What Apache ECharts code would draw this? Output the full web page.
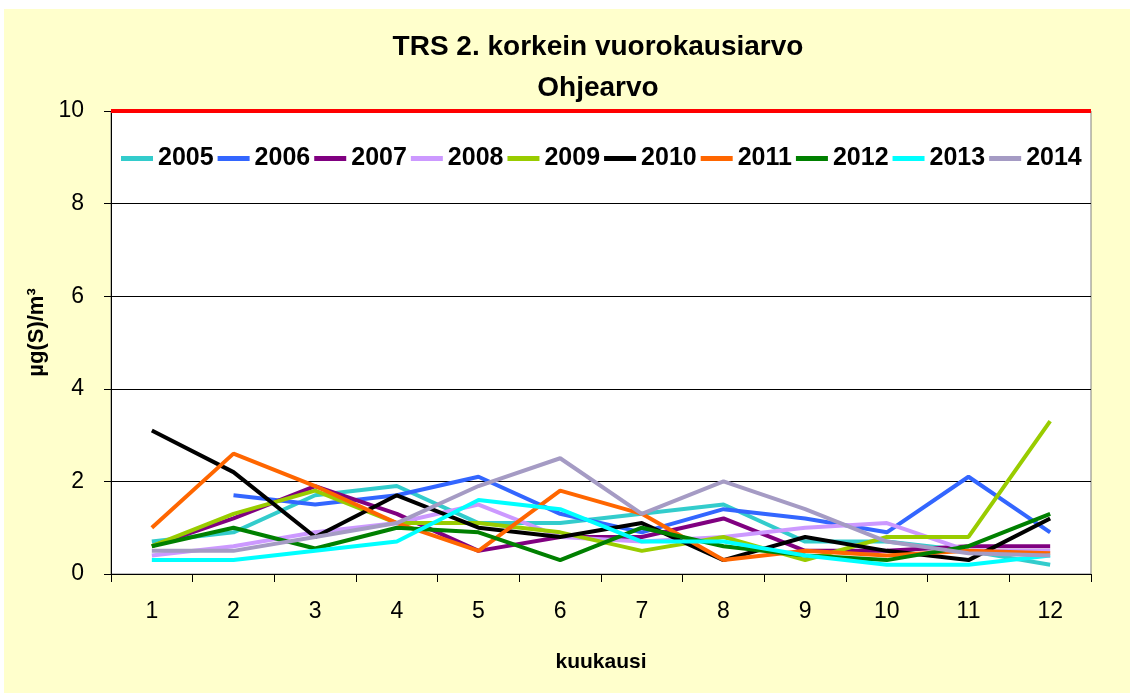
<!DOCTYPE html>
<html>
<head>
<meta charset="utf-8">
<title>TRS 2. korkein vuorokausiarvo</title>
<script src="https://cdn.jsdelivr.net/npm/echarts@6/dist/echarts.min.js"></script>
<style>
  html, body { margin: 0; padding: 0; background: #ffffff; }
  #chart { position: absolute; left: 4px; top: 9px; width: 1126px; height: 684px; background: #ffffcc; }
</style>
</head>
<body>
<div id="chart"></div>
<script>
// Kuukaudet (x-akseli)
const months = ['1', '2', '3', '4', '5', '6', '7', '8', '9', '10', '11', '12'];

// Vuosikohtaiset 2. korkeimmat vuorokausiarvot, µg(S)/m³
const y2005 = [0.7, 0.9, 1.7, 1.9, 1.1, 1.1, 1.3, 1.5, 0.7, 0.7, 0.5, 0.2];
const y2006 = [null, 1.7, 1.5, 1.7, 2.1, 1.3, 0.9, 1.4, 1.2, 0.9, 2.1, 0.9];
const y2007 = [0.6, 1.2, 1.9, 1.3, 0.5, 0.8, 0.8, 1.2, 0.5, 0.5, 0.6, 0.6];
const y2008 = [0.4, 0.6, 0.9, 1.1, 1.5, 0.8, 0.7, 0.8, 1.0, 1.1, 0.5, 0.5];
const y2009 = [0.6, 1.3, 1.8, 1.1, 1.1, 0.9, 0.5, 0.8, 0.3, 0.8, 0.8, 3.3];
const y2010 = [3.1, 2.2, 0.8, 1.7, 1.0, 0.8, 1.1, 0.3, 0.8, 0.5, 0.3, 1.2];
const y2011 = [1.0, 2.6, 1.9, 1.1, 0.5, 1.8, 1.3, 0.3, 0.5, 0.4, 0.5, 0.45];
const y2012 = [0.6, 1.0, 0.55, 1.0, 0.9, 0.3, 1.0, 0.6, 0.4, 0.3, 0.6, 1.3];
const y2013 = [0.3, 0.3, 0.5, 0.7, 1.6, 1.4, 0.7, 0.7, 0.4, 0.2, 0.2, 0.4];
const y2014 = [0.5, 0.5, 0.8, 1.1, 1.9, 2.5, 1.3, 2.0, 1.4, 0.7, 0.45, 0.4];

const years = ['2005', '2006', '2007', '2008', '2009', '2010', '2011', '2012', '2013', '2014'];
const yearData = [y2005, y2006, y2007, y2008, y2009, y2010, y2011, y2012, y2013, y2014];
const yearColors = ['#33cccc', '#3366ff', '#800080', '#cc99ff', '#99cc00',
                    '#000000', '#ff6600', '#008000', '#00ffff', '#a59bc4'];

// Ohjearvo ja y-akselin asteikko
const guideValue = 10;
const yTicks = [0, 2, 4, 6, 8, 10];

const FONT = 'Liberation Sans, Arial, sans-serif';

const series = years.map((name, i) => ({
  name: name,
  type: 'line',
  data: yearData[i],
  showSymbol: false,
  symbol: 'none',
  connectNulls: false,
  lineStyle: { width: 4, color: yearColors[i] },
  itemStyle: { color: yearColors[i] },
  emphasis: { disabled: true },
  animation: false
}));

// Ohjearvoviiva koko piirtoalueen levyisenä
series[0].markLine = {
  silent: true,
  symbol: 'none',
  label: { show: false },
  lineStyle: { color: '#ff0000', width: 4, type: 'solid' },
  data: [{ yAxis: guideValue }],
  animation: false
};

const chart = echarts.init(document.getElementById('chart'), null, { renderer: 'canvas' });

chart.setOption({
  backgroundColor: '#ffffcc',
  animation: false,
  title: [
    {
      text: 'TRS 2. korkein vuorokausiarvo',
      left: 589, top: 19, textAlign: 'center',
      textStyle: { fontFamily: FONT, fontSize: 28, fontWeight: 'bold', color: '#000' }
    },
    {
      text: 'Ohjearvo',
      left: 589, top: 60, textAlign: 'center',
      textStyle: { fontFamily: FONT, fontSize: 28, fontWeight: 'bold', color: '#000' }
    }
  ],
  legend: {
    data: years,
    left: 112, top: 132,
    icon: 'rect',
    itemWidth: 32, itemHeight: 5, itemGap: 4,
    textStyle: { fontFamily: FONT, fontSize: 25, fontWeight: 'bold', color: '#000' },
    selectedMode: false
  },
  grid: {
    left: 107, right: 39, top: 102, bottom: 119,
    show: true, backgroundColor: '#ffffff', borderColor: '#808080', borderWidth: 1,
    containLabel: false
  },
  xAxis: {
    type: 'category',
    data: months,
    boundaryGap: true,
    name: 'kuukausi',
    nameLocation: 'middle',
    nameGap: 78,
    nameTextStyle: { fontFamily: FONT, fontSize: 21, fontWeight: 'bold', color: '#000' },
    axisLine: { lineStyle: { color: '#000', width: 1 } },
    axisTick: { show: true, length: 8, lineStyle: { color: '#000' }, alignWithLabel: false },
    axisLabel: { margin: 26, fontFamily: FONT, fontSize: 23, color: '#000' },
    splitLine: { show: false }
  },
  yAxis: {
    type: 'value',
    min: yTicks[0], max: yTicks[yTicks.length - 1], interval: yTicks[1] - yTicks[0],
    name: 'µg(S)/m³',
    nameLocation: 'middle',
    nameGap: 56,
    nameRotate: 90,
    nameTextStyle: { fontFamily: FONT, fontSize: 22, fontWeight: 'bold', color: '#000', padding: [0, 0, 0, 20] },
    axisLine: { show: true, lineStyle: { color: '#000', width: 1 } },
    axisTick: { show: true, length: 7, lineStyle: { color: '#000' } },
    axisLabel: { margin: 27, fontFamily: FONT, fontSize: 23, color: '#000' },
    splitLine: { show: true, lineStyle: { color: '#000', width: 1 } }
  },
  series: series
});
</script>
</body>
</html>
